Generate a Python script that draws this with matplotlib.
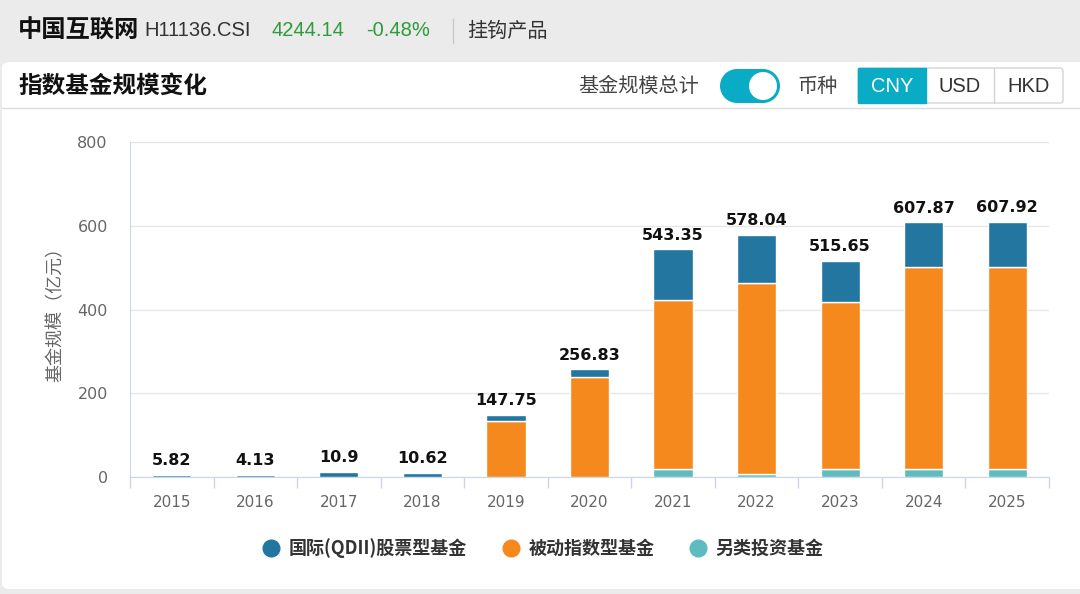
import matplotlib
matplotlib.use("Agg")
import matplotlib.pyplot as plt
from matplotlib.patches import FancyBboxPatch, Rectangle, Circle
from matplotlib.lines import Line2D
import numpy as np

plt.rcParams['font.family'] = ['Noto Sans CJK SC', 'DejaVu Sans']

# ---------------- data ----------------
years = ['2015', '2016', '2017', '2018', '2019', '2020', '2021', '2022', '2023', '2024', '2025']
totals = [5.82, 4.13, 10.9, 10.62, 147.75, 256.83, 543.35, 578.04, 515.65, 607.87, 607.92]
alt_funds = [0, 0, 0, 0, 0, 0, 20, 8, 20, 20, 20]                     # 另类投资基金
passive_index = [0, 0, 0, 0, 133.5, 238, 403, 456, 397.6, 480.9, 480.9]  # 被动指数型基金
qdii = [5.82, 4.13, 10.9, 10.62, 14.25, 18.83, 120.35, 114.04, 98.05, 106.97, 107.02]  # 国际(QDII)股票型基金
series_names = ['国际(QDII)股票型基金', '被动指数型基金', '另类投资基金']
y_ticks = [0, 200, 400, 600, 800]

C_QDII = '#23769f'
C_PASS = '#f5891e'
C_ALT = '#5cbcc0'
TEAL = '#0aacc5'

W, H = 1080, 594
fig = plt.figure(figsize=(W / 100, H / 100), dpi=100)
fig.patch.set_facecolor('#ebebeb')


def fx(x):
    return x / W


def fy(y):
    return 1 - y / H


# white card
card = FancyBboxPatch((fx(2), fy(589)), fx(1090), fy(62) - fy(589),
                      boxstyle="round,pad=0,rounding_size=0.008",
                      transform=fig.transFigure, facecolor='white', edgecolor='none', zorder=0)
fig.add_artist(card)
fig.add_artist(Line2D([fx(2), fx(1080)], [fy(108), fy(108)], transform=fig.transFigure,
                      color='#dcdcdc', lw=1))

# header
fig.text(fx(18), fy(31), '中国互联网', fontsize=17.5, fontweight='bold', color='#111',
         va='center', ha='left')
fig.text(fx(144), fy(31), 'H11136.CSI', fontsize=14.5, color='#333', va='center', ha='left',
         family=['Liberation Sans'])
fig.text(fx(272), fy(31), '4244.14', fontsize=14.5, color='#2f9b3c', va='center', ha='left',
         family=['Liberation Sans'])
fig.text(fx(366), fy(31), '-0.48%', fontsize=14.5, color='#2f9b3c', va='center', ha='left',
         family=['Liberation Sans'])
fig.add_artist(Line2D([fx(453), fx(453)], [fy(19), fy(43)], transform=fig.transFigure,
                      color='#c8c8c8', lw=1))
fig.text(fx(467), fy(31), '挂钩产品', fontsize=14.5, color='#333', va='center', ha='left')

# title
fig.text(fx(18), fy(86), '指数基金规模变化', fontsize=17, fontweight='bold', color='#111',
         va='center', ha='left')

# controls
fig.text(fx(578), fy(86), '基金规模总计', fontsize=14.5, color='#444', va='center', ha='left')
ax_t = fig.add_axes([fx(718), fy(104), fx(64), fy(68) - fy(104)])
ax_t.set_xlim(718, 782)
ax_t.set_ylim(104, 68)
ax_t.axis('off')
ax_t.add_patch(Rectangle((737, 69), 26, 34, facecolor=TEAL, edgecolor='none'))
ax_t.add_patch(Circle((737, 86), 17, facecolor=TEAL, edgecolor='none'))
ax_t.add_patch(Circle((763, 86), 17, facecolor=TEAL, edgecolor='none'))
ax_t.add_patch(Circle((763, 86), 14, facecolor='white', edgecolor='none'))
ax_t.set_aspect('equal')

fig.text(fx(798), fy(86), '币种', fontsize=14.5, color='#444', va='center', ha='left')

# buttons
ax_b = fig.add_axes([fx(856), fy(105), fx(210), fy(66) - fy(105)])
ax_b.set_xlim(856, 1066)
ax_b.set_ylim(105, 66)
ax_b.axis('off')
ax_b.add_patch(FancyBboxPatch((858, 68), 205, 35, boxstyle="round,pad=0,rounding_size=3",
                              facecolor='white', edgecolor='#d4d4d4', lw=1))
ax_b.add_patch(Rectangle((858, 68), 68, 35, facecolor=TEAL, edgecolor=TEAL, lw=1))
ax_b.plot([994.5, 994.5], [68, 103], color='#d4d4d4', lw=1)
for cx, lab, col in [(892, 'CNY', 'white'), (960, 'USD', '#333'), (1029, 'HKD', '#333')]:
    ax_b.text(cx, 86.5, lab, fontsize=14.5, color=col, ha='center', va='center',
              family=['Liberation Sans'])

# ---------------- chart ----------------
ax = fig.add_axes([fx(130), fy(477), fx(1049) - fx(130), fy(142) - fy(477)])
x = np.arange(len(years))
bw = 0.47
alt = np.array(alt_funds)
pas = np.array(passive_index)
qd = np.array(qdii)
ax.bar(x, alt, bw, color=C_ALT, edgecolor='white', lw=1, zorder=3)
ax.bar(x, pas, bw, bottom=alt, color=C_PASS, edgecolor='white', lw=1, zorder=3)
ax.bar(x, qd, bw, bottom=alt + pas, color=C_QDII, edgecolor='white', lw=1, zorder=3)

for xi, t in zip(x, totals):
    ax.annotate(f'{t:g}', (xi, alt[xi] + pas[xi] + qd[xi]), xytext=(0, 5),
                textcoords='offset points', ha='center', va='bottom',
                fontsize=11.5, fontweight='bold', color='#111', family=['DejaVu Sans'], zorder=5)

ax.set_xlim(-0.5, len(years) - 0.5)
ax.set_ylim(0, 800)
ax.set_yticks(y_ticks)
ax.set_yticklabels([str(v) for v in y_ticks], family=['DejaVu Sans'])
ax.set_xticks(x)
ax.set_xticklabels(years, family=['DejaVu Sans'])
ax.set_xticks(np.arange(-0.5, len(years), 1.0), minor=True)
ax.tick_params(axis='x', which='major', length=0, labelsize=11, labelcolor='#666', pad=13)
ax.tick_params(axis='x', which='minor', length=8, color='#ccd6eb', width=1)
ax.tick_params(axis='y', length=0, labelsize=11.5, labelcolor='#666', pad=16)
ax.grid(axis='y', color='#e6e6e6', lw=1, zorder=0)
ax.set_axisbelow(True)
for s in ['top', 'right']:
    ax.spines[s].set_visible(False)
ax.spines['left'].set_color('#ccd6eb')
ax.spines['bottom'].set_color('#ccd6eb')
ax.spines['left'].set_bounds(0, 800)
ax.set_ylabel('基金规模（亿元）', fontsize=13, color='#666', labelpad=9)

handles = [Line2D([], [], marker='o', ls='none', markersize=12, markerfacecolor=c,
                  markeredgecolor=c) for c in (C_QDII, C_PASS, C_ALT)]
fig.legend(handles, series_names, loc='center', bbox_to_anchor=(fx(543), fy(548)), ncol=3,
           frameon=False, handletextpad=0.45, columnspacing=1.95,
           handlelength=1.0, prop={'weight': 'bold', 'size': 13})
leg = fig.legends[-1]
for t in leg.get_texts():
    t.set_color('#333')

fig.savefig('out.png', dpi=100, facecolor=fig.get_facecolor())
